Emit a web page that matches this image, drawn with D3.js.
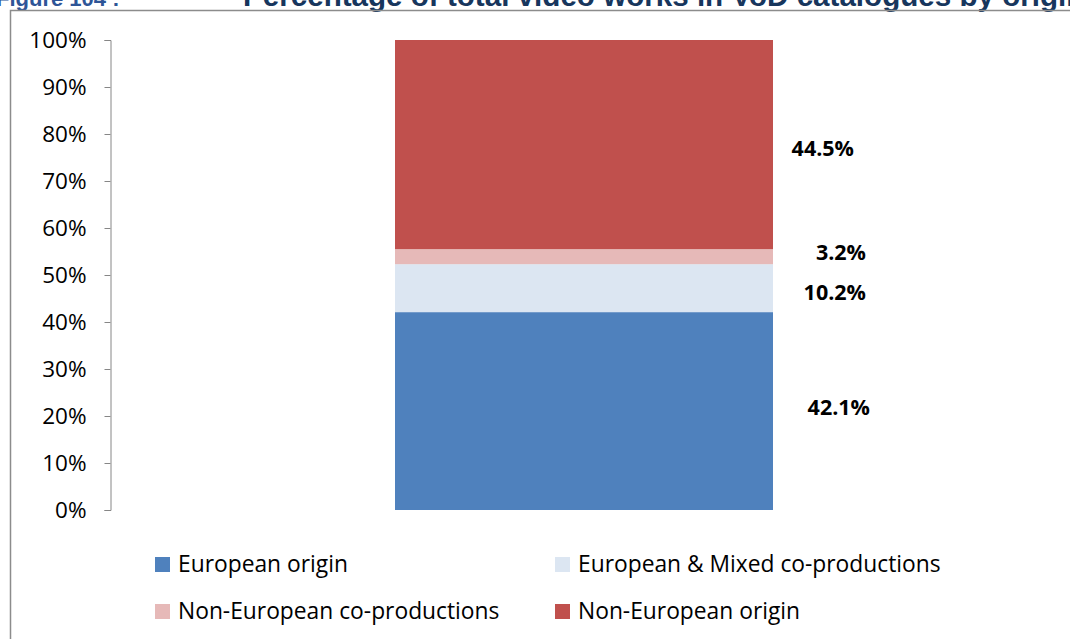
<!DOCTYPE html>
<html><head><meta charset="utf-8">
<script src="https://cdn.jsdelivr.net/npm/d3@7"></script>
<style>body{margin:0;background:#fff;overflow:hidden}</style>
</head><body>
<svg id="c" width="1070" height="639"></svg>
<script>
const categories = ["European origin","European & Mixed co-productions","Non-European co-productions","Non-European origin"];
const values = [42.1, 10.2, 3.2, 44.5];
const labels = ["42.1%","10.2%","3.2%","44.5%"];
const colors = ["#4F81BD","#DCE6F2","#E6B9B8","#C0504D"];
const ticks = [0,10,20,30,40,50,60,70,80,90,100];

const svg = d3.select("#c");
const font = "'Open Sans', sans-serif";

// title (clipped at top, as in the reference)
svg.append("text").attr("x",-4).attr("y",6).attr("font-family","Arial, 'Liberation Sans', sans-serif")
  .attr("font-weight","bold").attr("font-size",22).attr("fill","#2E5597").text("Figure 104 :");
svg.append("text").attr("x",243).attr("y",6).attr("font-family","Arial, 'Liberation Sans', sans-serif")
  .attr("font-weight","bold").attr("font-size",29.6).attr("fill","#17365D")
  .text("Percentage of total video works in VoD catalogues by origin");

// chart border
svg.append("rect").attr("x",10.5).attr("y",10.5).attr("width",1080).attr("height",700)
  .attr("fill","none").attr("stroke","#8c8c8c").attr("stroke-width",1.5);

const y = d3.scaleLinear().domain([0,100]).range([510,40]);

const axis = d3.axisLeft(y).tickValues(ticks).tickFormat(d=>d+"%").tickSize(6).tickPadding(18);
const ag = svg.append("g").attr("transform","translate(110.5,0)").call(axis);
ag.select(".domain").attr("stroke","#868686");
ag.selectAll(".tick line").attr("stroke","#868686");
ag.selectAll(".tick text").attr("font-family",font).attr("font-size",22.5).attr("fill","#000");

// stacked bar
let cum = 0;
const stack = values.map((v,i)=>{const s={i,y0:cum,y1:cum+v}; cum+=v; return s;});
const bx = 395, bw = 378;
svg.selectAll("rect.seg").data(stack).enter().append("rect").attr("class","seg")
  .attr("x",bx).attr("width",bw)
  .attr("y",d=>y(d.y1)).attr("height",d=>y(d.y0)-y(d.y1))
  .attr("fill",d=>colors[d.i]);

// data labels
const labelPos = [
  {x:870, y:407+8},
  {x:866, y:292+8},
  {x:866, y:252+8},
  {x:854, y:148+8}
];
svg.selectAll("text.lbl").data(stack).enter().append("text").attr("class","lbl")
  .attr("x",(d)=>labelPos[d.i].x).attr("y",(d)=>labelPos[d.i].y)
  .attr("text-anchor","end").attr("font-family",font).attr("font-weight","bold")
  .attr("font-size",21.5).attr("fill","#000").text(d=>labels[d.i]);

// legend
const legPos = [[155,564],[555,564],[155,611],[555,611]];
const lg = svg.selectAll("g.leg").data(categories).enter().append("g").attr("class","leg")
  .attr("transform",(d,i)=>`translate(${legPos[i][0]},${legPos[i][1]})`);
lg.append("rect").attr("x",0).attr("y",-7).attr("width",15).attr("height",15).attr("fill",(d,i)=>colors[i]);
lg.append("text").attr("x",23).attr("y",8).attr("font-family",font).attr("font-size",22.8).attr("fill","#000").text(d=>d);
</script>
</body></html>
